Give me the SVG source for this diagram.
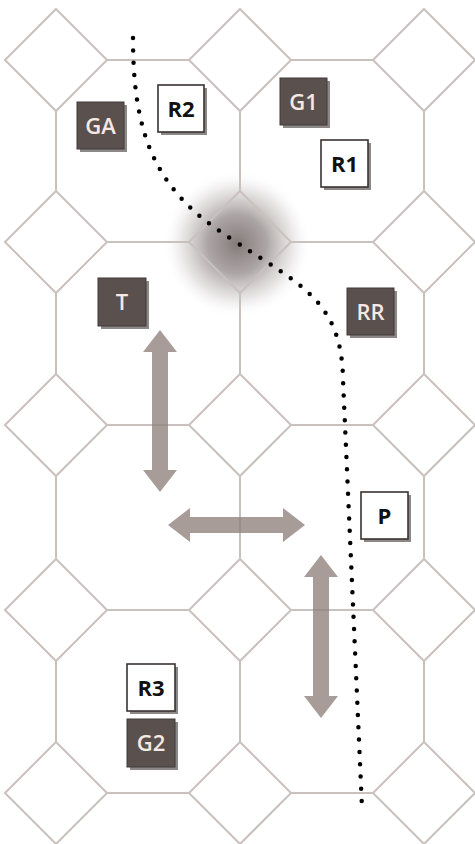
<svg xmlns="http://www.w3.org/2000/svg" width="475" height="844" viewBox="0 0 475 844">
  <style>
    .grid { fill: none; stroke: #c9c1be; stroke-width: 2; }
    .arrow { fill: #8f807c; opacity: 0.78; }
    .dark rect.box { fill: #5a504e; stroke: #40383a; stroke-width: 1; }
    .light rect.box { fill: #ffffff; stroke: #3a3232; stroke-width: 1.6; }
    rect.sh { fill: #2e2626; opacity: 0.55; }
    .dark text { fill: #f6e8e2; font-family: "Open Sans", "Liberation Sans", sans-serif; font-size: 22px; font-weight: 600; text-anchor: middle; }
    .light text { fill: #111111; font-family: "Open Sans", "Liberation Sans", sans-serif; font-size: 22px; font-weight: 700; text-anchor: middle; }
    .dots { fill: none; stroke: #000000; stroke-width: 4.5; stroke-linecap: round; stroke-dasharray: 0 12.3; }
  </style>
  <defs>
    <radialGradient id="glow" cx="0.5" cy="0.5" r="0.5">
      <stop offset="0" stop-color="#6e6262" stop-opacity="0.85"/>
      <stop offset="0.4" stop-color="#807575" stop-opacity="0.65"/>
      <stop offset="0.75" stop-color="#a89e9e" stop-opacity="0.25"/>
      <stop offset="1" stop-color="#ffffff" stop-opacity="0"/>
    </radialGradient>
    <polygon id="dia" points="0,-51 51,0 0,51 -51,0"/>
  </defs>
  <rect width="475" height="844" fill="#ffffff"/>
  <circle cx="237" cy="244" r="74" fill="url(#glow)"/>

  <g id="grid" class="grid">
    <use href="#dia" x="56" y="60"/><use href="#dia" x="240" y="60"/><use href="#dia" x="424" y="60"/>
    <use href="#dia" x="56" y="242"/><use href="#dia" x="240" y="242"/><use href="#dia" x="424" y="242"/>
    <use href="#dia" x="56" y="425"/><use href="#dia" x="240" y="425"/><use href="#dia" x="424" y="425"/>
    <use href="#dia" x="56" y="610"/><use href="#dia" x="240" y="610"/><use href="#dia" x="424" y="610"/>
    <use href="#dia" x="56" y="793"/><use href="#dia" x="240" y="793"/><use href="#dia" x="424" y="793"/>
    <path d="M107,60H189M291,60H373M107,242H189M291,242H373M107,425H189M291,425H373M107,610H189M291,610H373M107,793H189M291,793H373"/>
    <path d="M56,111V191M240,111V191M424,111V191M56,293V374M240,293V374M424,293V374M56,476V559M240,476V559M424,476V559M56,661V742M240,661V742M424,661V742"/>
  </g>

  <g id="connectors">
    <polygon class="arrow" points="160,330 177,352 168,352 168,470 177,470 160,492 143,470 152,470 152,352 143,352"/>
    <polygon class="arrow" points="168,525 190,508 190,517 283,517 283,508 305,525 283,542 283,533 190,533 190,542"/>
    <polygon class="arrow" points="321,555 338,577 329,577 329,696 338,696 321,718 304,696 313,696 313,577 304,577"/>
    <path class="dots" d="M133,38 C133,140 158,192 230,238 C300,285 342,300 343,380 L362,808"/>
  </g>

  <g id="GA" class="dark"><rect class="sh" x="80" y="105" width="47" height="47"/><rect class="box" x="77" y="102" width="47" height="47"/><text x="100.5" y="134">GA</text></g>
  <g id="R2" class="light"><rect class="sh" x="161" y="88" width="46" height="47"/><rect class="box" x="158" y="85" width="46" height="47"/><text x="181" y="117">R2</text></g>
  <g id="G1" class="dark"><rect class="sh" x="283" y="81" width="47" height="47"/><rect class="box" x="280" y="78" width="47" height="47"/><text x="303.5" y="110">G1</text></g>
  <g id="R1" class="light"><rect class="sh" x="324" y="143" width="47" height="47"/><rect class="box" x="321" y="140" width="47" height="47"/><text x="344.5" y="172">R1</text></g>
  <g id="T" class="dark"><rect class="sh" x="101" y="281" width="48" height="48"/><rect class="box" x="98" y="278" width="48" height="48"/><text x="122" y="310">T</text></g>
  <g id="RR" class="dark"><rect class="sh" x="350" y="291" width="47" height="47"/><rect class="box" x="347" y="288" width="47" height="47"/><text x="370.5" y="320">RR</text></g>
  <g id="P" class="light"><rect class="sh" x="364" y="495" width="47" height="47"/><rect class="box" x="361" y="492" width="47" height="47"/><text x="384.5" y="524">P</text></g>
  <g id="R3" class="light"><rect class="sh" x="130" y="667" width="48" height="47"/><rect class="box" x="127" y="664" width="48" height="47"/><text x="151" y="696">R3</text></g>
  <g id="G2" class="dark"><rect class="sh" x="130" y="722" width="48" height="48"/><rect class="box" x="127" y="719" width="48" height="48"/><text x="151" y="751">G2</text></g>
</svg>
